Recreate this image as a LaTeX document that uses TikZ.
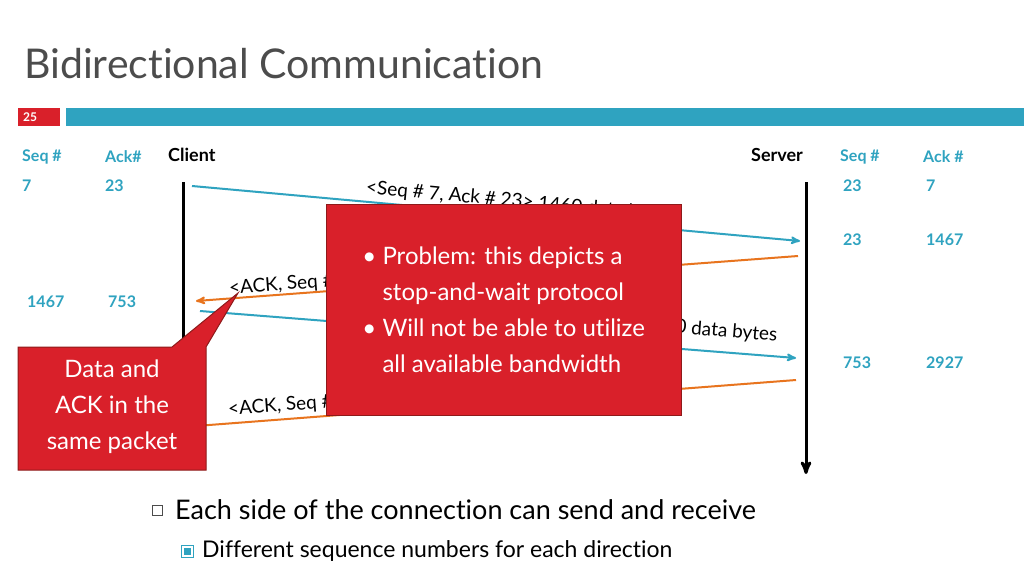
\documentclass[tikz,border=0pt]{standalone}
\usepackage{fontspec}
\setmainfont{Lato}[Ligatures=NoCommon]
\usetikzlibrary{arrows,positioning}
\definecolor{teal}{HTML}{2FA3C0}
\definecolor{ornge}{HTML}{E8741E}
\definecolor{boxred}{HTML}{D9202A}
\definecolor{edgered}{HTML}{8E1A1A}
\begin{document}
\begin{tikzpicture}[x=1pt,y=-1pt,>=stealth',
    num/.style={text=teal,font=\fontsize{16}{18}\selectfont\bfseries,anchor=west,inner sep=0pt},
    party/.style={font=\fontsize{18}{20}\selectfont\bfseries,anchor=west,inner sep=0pt},
    msg/.style={font=\fontsize{19}{21}\selectfont,anchor=west,inner sep=0pt},
    data/.style={->,teal,line width=2pt},
    ack/.style={->,ornge,line width=2pt}]
  \useasboundingbox[fill=white] (0,0) rectangle (1024,576);

  % title and bar
  \node[anchor=west,inner sep=0pt,font=\fontsize{41}{45}\selectfont,text=black!70] (title) at (24,64) {Bidirectional Communication};
  \fill[boxred] (18,108) rectangle (60,126);
  \node[text=white,font=\fontsize{12}{14}\selectfont\bfseries] (slide) at (30,117) {25};
  \fill[teal] (66,108) rectangle (1024,126);

  % column headers
  \node[num] (cseq) at (22,157) {Seq \#};
  \node[num] (cack) at (105,157) {Ack\#};
  \node[party] (client) at (168,155) {Client};
  \node[party] (server) at (751,155) {Server};
  \node[num] (sseq) at (840,157) {Seq \#};
  \node[num] (sack) at (923,157) {Ack \#};
  \node[num] (c1s) at (22,186) {7};
  \node[num] (c1a) at (105,186) {23};
  \node[num] (c2s) at (27,302) {1467};
  \node[num] (c2a) at (108,302) {753};
  \node[num] (s1s) at (843,186) {23};
  \node[num] (s1a) at (926,186) {7};
  \node[num] (s2s) at (843,240) {23};
  \node[num] (s2a) at (926,240) {1467};
  \node[num] (s3s) at (843,363) {753};
  \node[num] (s3a) at (926,363) {2927};

  % time lines
  \coordinate (ctop) at (183,182);
  \coordinate (cbot) at (183,470);
  \coordinate (stop) at (806,182);
  \coordinate (sbot) at (806,474);
  \draw[line width=3pt] (ctop) -- (cbot);
  \draw[->,line width=3pt] (stop) -- (sbot);

  % messages
  \coordinate (m1a) at (192,186);  \coordinate (m1b) at (800,241);
  \coordinate (m2a) at (798,256);  \coordinate (m2b) at (196,301);
  \coordinate (m3a) at (200,311);  \coordinate (m3b) at (796,358);
  \coordinate (m4a) at (796,380);  \coordinate (m4b) at (196,426);
  \draw[data] (m1a) -- (m1b);
  \draw[ack] (m2a) -- (m2b);
  \draw[data] (m3a) -- (m3b);
  \draw[ack] (m4a) -- (m4b);
  \node[msg,rotate=-5.2] (l1) at (366,188) {<Seq \# 7, Ack \# 23> 1460 data bytes};
  \node[msg,rotate=4.3] (l2) at (229,289) {<ACK, Seq \# 23, Ack \# 1467> 730 data bytes};
  \node[msg,rotate=-4.5] (l3) at (426,308) {<Seq \# 1467, Ack \# 753> 1460 data bytes};
  \node[msg,rotate=4.4] (l4) at (228,410) {<ACK, Seq \# 753, Ack \# 2927> 730 data bytes};

  % problem box
  \node[fill=boxred,draw=edgered,minimum width=355,minimum height=211,anchor=north west,
        text=white,font=\fontsize{24}{36}\selectfont,align=left,inner sep=10pt]
        (problem) at (326,204)
        {\textbullet\ Problem: this depicts a\\
         \phantom{\textbullet\ }stop-and-wait protocol\\
         \textbullet\ Will not be able to utilize\\
         \phantom{\textbullet\ }all available bandwidth};

  % callout
  \coordinate (tip) at (238,293);
  \draw[fill=boxred,draw=edgered,line width=1pt]
    (18,347) -- (172,347) -- (tip) -- (206,347) -- (206,470) -- (18,470) -- cycle;
  \node[text=white,font=\fontsize{24}{36}\selectfont,align=center] (note) at (112,407)
    {Data and\\ACK in the\\same packet};

  % bullets
  \node[draw=black!70,line width=0.8pt,minimum size=10pt,inner sep=0pt] (b1) at (157,510) {};
  \node[anchor=west,font=\fontsize{27}{30}\selectfont,inner sep=0pt] (t1) at (175,510)
    {Each side of the connection can send and receive};
  \node[draw=teal,fill=white,line width=1pt,minimum size=12pt,inner sep=0pt] (b2) at (187,551) {};
  \fill[teal] (b2.center) +(-3.5,-3.5) rectangle +(3.5,3.5);
  \node[anchor=west,font=\fontsize{23}{26}\selectfont,inner sep=0pt] (t2) at (202,551)
    {Different sequence numbers for each direction};
\end{tikzpicture}
\end{document}
